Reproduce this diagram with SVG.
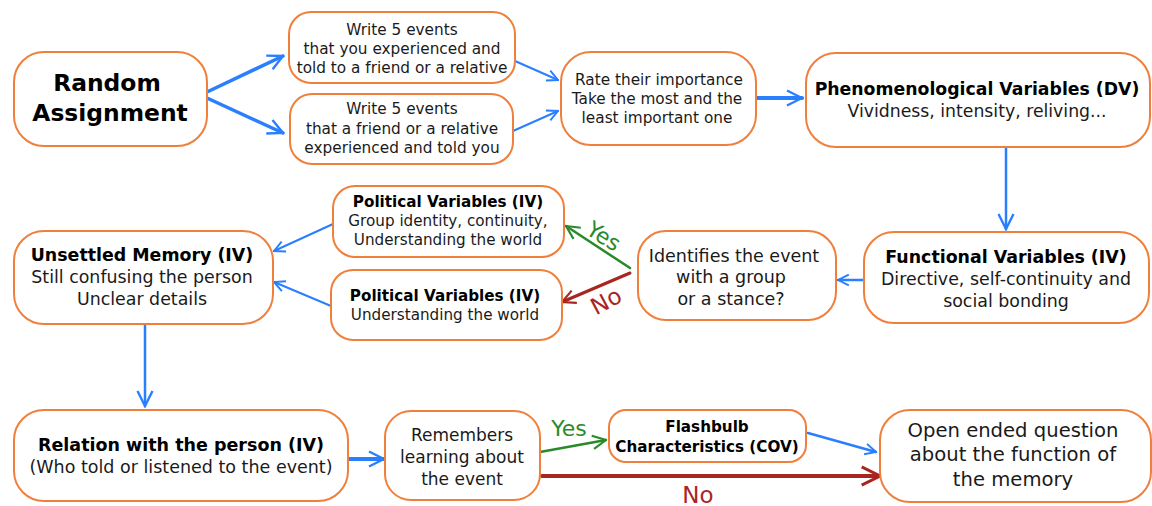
<svg xmlns="http://www.w3.org/2000/svg" width="1152" height="506" viewBox="0 0 1152 506">
<defs>
<style>
.box{fill:#fff;stroke:#f07f3c;stroke-width:2}
.t{font-family:"DejaVu Sans",sans-serif;fill:#1a1a1a;text-anchor:middle}
.b{font-weight:bold;fill:#000}
.blue{stroke:#2a7fff;fill:none;stroke-linecap:round}
.green{stroke:#2a8a2a;fill:none;stroke-linecap:round}
.red{stroke:#a8261f;fill:none;stroke-linecap:round}
</style>
<marker id="ab" viewBox="0 0 12 12" refX="11" refY="6" markerWidth="13" markerHeight="13" markerUnits="userSpaceOnUse" orient="auto"><path d="M1,1 L11,6 L1,11" fill="none" stroke="#2a7fff" stroke-width="1.8"/></marker>
<marker id="abL" viewBox="0 0 12 12" refX="11" refY="6" markerWidth="18" markerHeight="18" markerUnits="userSpaceOnUse" orient="auto"><path d="M1,1 L11,6 L1,11" fill="none" stroke="#2a7fff" stroke-width="1.6"/></marker>
<marker id="ag" viewBox="0 0 12 12" refX="11" refY="6" markerWidth="16" markerHeight="16" markerUnits="userSpaceOnUse" orient="auto"><path d="M1,1 L11,6 L1,11" fill="none" stroke="#2a8a2a" stroke-width="1.6"/></marker>
<marker id="ar" viewBox="0 0 12 12" refX="11" refY="6" markerWidth="16" markerHeight="16" markerUnits="userSpaceOnUse" orient="auto"><path d="M1,1 L11,6 L1,11" fill="none" stroke="#a8261f" stroke-width="1.6"/></marker>
<marker id="arL" viewBox="0 0 12 12" refX="11" refY="6" markerWidth="22" markerHeight="22" markerUnits="userSpaceOnUse" orient="auto"><path d="M1,1 L11,6 L1,11" fill="none" stroke="#a8261f" stroke-width="1.6"/></marker>
</defs>

<g id="connectors">
<line class="blue" x1="207" y1="92" x2="283" y2="56" stroke-width="3.5" marker-end="url(#abL)"/>
<line class="blue" x1="207" y1="98" x2="283" y2="133" stroke-width="3.5" marker-end="url(#abL)"/>
<line class="blue" x1="515" y1="61" x2="558" y2="80" stroke-width="2" marker-end="url(#ab)"/>
<line class="blue" x1="513" y1="131" x2="558" y2="111" stroke-width="2" marker-end="url(#ab)"/>
<line class="blue" x1="756" y1="98" x2="802" y2="98" stroke-width="4" marker-end="url(#abL)"/>
<line class="blue" x1="1006" y1="147" x2="1006" y2="229" stroke-width="2.5" marker-end="url(#abL)"/>
<line class="blue" x1="864" y1="280" x2="838" y2="280" stroke-width="2.5" marker-end="url(#ab)"/>
<line class="green" x1="630" y1="268" x2="566" y2="226" stroke-width="2.5" marker-end="url(#ag)"/>
<text class="t" x="604" y="244" font-size="22" style="fill:#2a8a2a" transform="rotate(32 604 236)">Yes</text>
<line class="red" x1="630" y1="273" x2="562" y2="302" stroke-width="3" marker-end="url(#ar)"/>
<text class="t" x="606" y="309" font-size="23" style="fill:#a8261f" transform="rotate(-28 606 301)">No</text>
<line class="blue" x1="333" y1="224" x2="274" y2="251" stroke-width="2" marker-end="url(#ab)"/>
<line class="blue" x1="331" y1="306" x2="274" y2="282" stroke-width="2" marker-end="url(#ab)"/>
<line class="blue" x1="145" y1="324" x2="145" y2="406" stroke-width="2.5" marker-end="url(#abL)"/>
<line class="blue" x1="348" y1="459" x2="384" y2="459" stroke-width="4" marker-end="url(#abL)"/>
<line class="green" x1="540" y1="452" x2="606" y2="440" stroke-width="2.5" marker-end="url(#ag)"/>
<text class="t" x="569" y="436" font-size="22" style="fill:#2a8a2a">Yes</text>
<line class="blue" x1="808" y1="433" x2="876" y2="452" stroke-width="2.5" marker-end="url(#ab)"/>
<line class="red" x1="542" y1="476" x2="880" y2="476" stroke-width="4" marker-end="url(#arL)"/>
<text class="t" x="698" y="503" font-size="23" style="fill:#a8261f">No</text>
</g>

<g id="random">
<rect class="box" x="14" y="52" width="193" height="94" rx="30"/>
<text class="t b" x="107" y="91" font-size="23.4">Random</text>
<text class="t b" x="110" y="121" font-size="23.4">Assignment</text>
</g>
<g id="write1">
<rect class="box" x="289" y="12" width="226" height="71" rx="22"/>
<text class="t" x="402" y="35" font-size="15.3">Write 5 events</text>
<text class="t" x="402" y="54" font-size="15.3">that you experienced and</text>
<text class="t" x="402" y="73" font-size="15.3">told to a friend or a relative</text>
</g>
<g id="write2">
<rect class="box" x="290" y="94" width="223" height="70" rx="22"/>
<text class="t" x="402" y="114" font-size="15.3">Write 5 events</text>
<text class="t" x="402" y="134" font-size="15.3">that a friend or a relative</text>
<text class="t" x="402" y="153" font-size="15.3">experienced and told you</text>
</g>
<g id="rate">
<rect class="box" x="561" y="52" width="195" height="93" rx="30"/>
<text class="t" x="659" y="85" font-size="15.3">Rate their importance</text>
<text class="t" x="657" y="104" font-size="15.3">Take the most and the</text>
<text class="t" x="657" y="123" font-size="15.3">least important one</text>
</g>
<g id="phenom">
<rect class="box" x="806" y="53" width="344" height="94" rx="30"/>
<text class="t b" x="977" y="95" font-size="17.3">Phenomenological Variables (DV)</text>
<text class="t" x="977" y="117" font-size="17.3">Vividness, intensity, reliving...</text>
</g>
<g id="functional">
<rect class="box" x="864" y="232" width="285" height="91" rx="30"/>
<text class="t b" x="1006" y="263" font-size="17.4">Functional Variables (IV)</text>
<text class="t" x="1006" y="285" font-size="17.4">Directive, self-continuity and</text>
<text class="t" x="1006" y="307" font-size="17.4">social bonding</text>
</g>
<g id="identifies">
<rect class="box" x="638" y="231" width="198" height="89" rx="28"/>
<text class="t" x="734" y="262" font-size="17.5">Identifies the event</text>
<text class="t" x="731" y="283" font-size="17.5">with a group</text>
<text class="t" x="731" y="305" font-size="17.5">or a stance?</text>
</g>
<g id="political1">
<rect class="box" x="333" y="186" width="231" height="71" rx="22"/>
<text class="t b" x="448" y="207" font-size="15.2">Political Variables (IV)</text>
<text class="t" x="448" y="226" font-size="15.2">Group identity, continuity,</text>
<text class="t" x="448" y="245" font-size="15.2">Understanding the world</text>
</g>
<g id="political2">
<rect class="box" x="331" y="270" width="231" height="70" rx="22"/>
<text class="t b" x="445" y="301" font-size="15.2">Political Variables (IV)</text>
<text class="t" x="445" y="320" font-size="15.2">Understanding the world</text>
</g>
<g id="unsettled">
<rect class="box" x="14" y="231" width="259" height="93" rx="30"/>
<text class="t b" x="142" y="261" font-size="17.4">Unsettled Memory (IV)</text>
<text class="t" x="142" y="283" font-size="17.4">Still confusing the person</text>
<text class="t" x="142" y="305" font-size="17.4">Unclear details</text>
</g>
<g id="relation">
<rect class="box" x="14" y="410" width="334" height="91" rx="30"/>
<text class="t b" x="181" y="451" font-size="17.5">Relation with the person (IV)</text>
<text class="t" x="181" y="473" font-size="17.5">(Who told or listened to the event)</text>
</g>
<g id="remembers">
<rect class="box" x="385" y="411" width="155" height="89" rx="26"/>
<text class="t" x="462" y="441" font-size="17">Remembers</text>
<text class="t" x="462" y="463" font-size="17">learning about</text>
<text class="t" x="462" y="485" font-size="17">the event</text>
</g>
<g id="flashbulb">
<rect class="box" x="609" y="410" width="197" height="52" rx="17"/>
<text class="t b" x="707" y="432" font-size="15.2">Flashbulb</text>
<text class="t b" x="707" y="452" font-size="15.2">Characteristics (COV)</text>
</g>
<g id="openended">
<rect class="box" x="880" y="410" width="271" height="92" rx="30"/>
<text class="t" x="1013" y="437" font-size="19.6">Open ended question</text>
<text class="t" x="1013" y="461" font-size="19.6">about the function of</text>
<text class="t" x="1013" y="486" font-size="19.6">the memory</text>
</g>
</svg>
